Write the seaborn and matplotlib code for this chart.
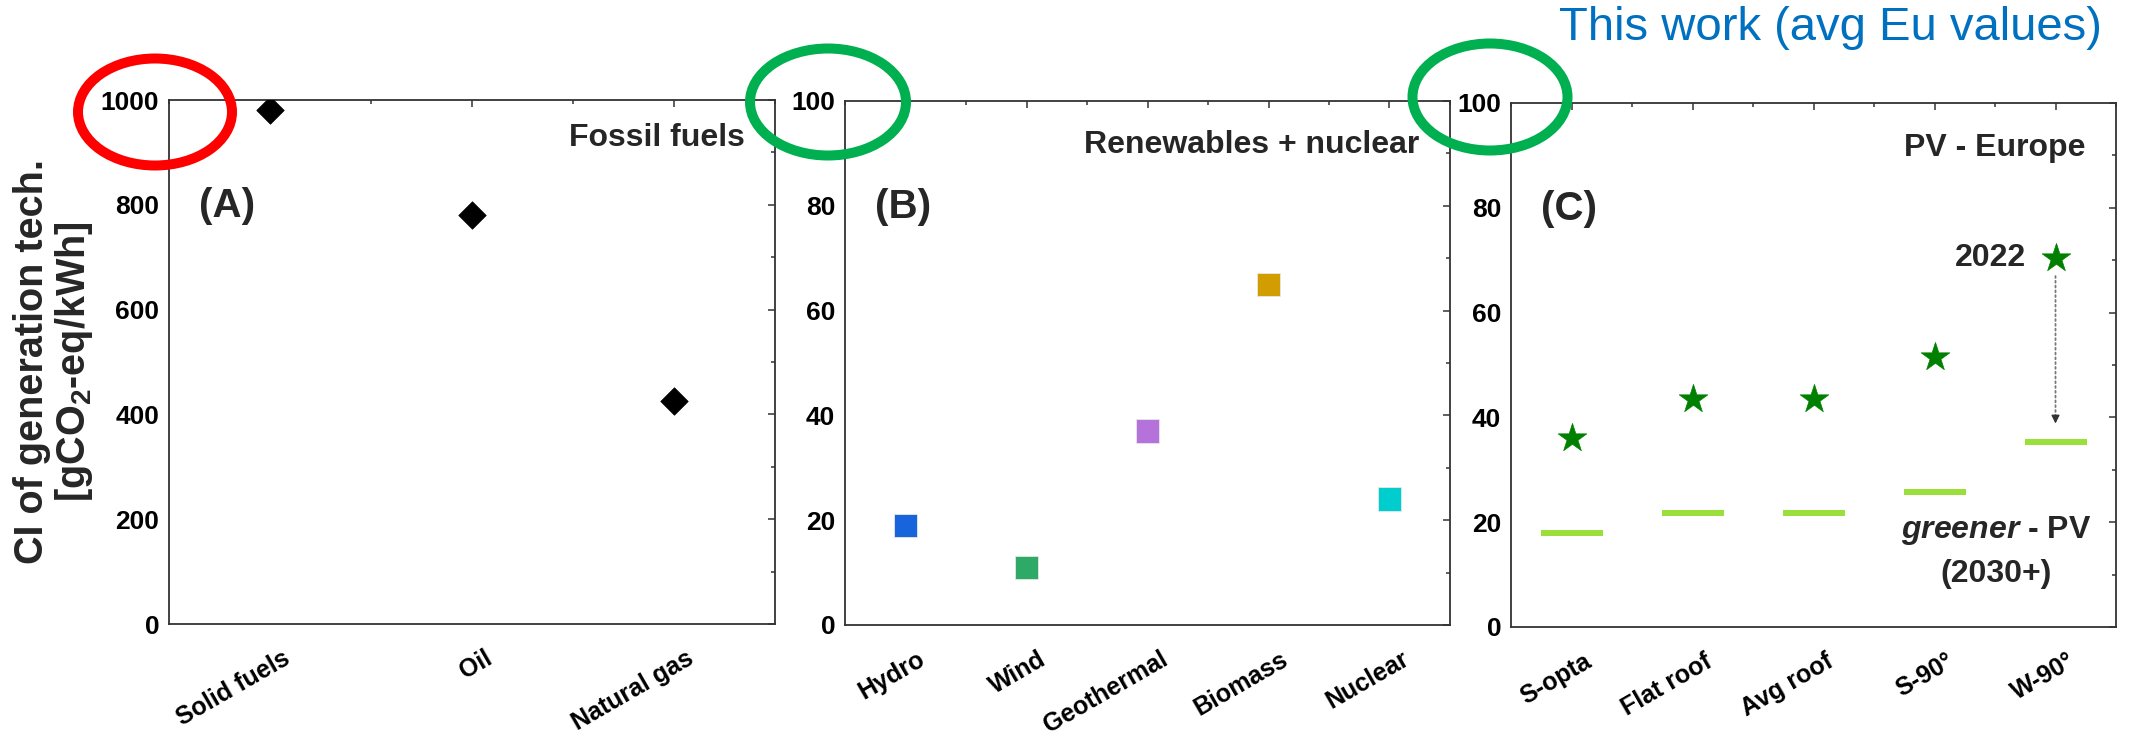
import numpy as np
import pandas as pd
import matplotlib
matplotlib.use("Agg")
import matplotlib.pyplot as plt
import matplotlib.transforms as mtransforms
from matplotlib.patches import Ellipse
from matplotlib.ticker import MultipleLocator
import seaborn as sns

# ---------------- data ----------------
fossil_cats = ["Solid fuels", "Oil", "Natural gas"]
fossil_ci = [980, 780, 425]

renew_cats = ["Hydro", "Wind", "Geothermal", "Biomass", "Nuclear"]
renew_ci = [19, 11, 37, 65, 24]
renew_colors = ["#1764DC", "#2EAA66", "#B472DA", "#D29D00", "#00CDCD"]

pv_cats = ["S-opta", "Flat roof", "Avg roof", "S-90°", "W-90°"]
pv_2022 = [36, 43.5, 43.5, 51.5, 70.5]
pv_2030 = [18, 21.8, 21.8, 25.8, 35.3]

# ---------------- style ----------------
sns.set_theme(style="white")
plt.rcParams["font.family"] = ["Liberation Sans", "DejaVu Sans"]
plt.rcParams["font.weight"] = "bold"
plt.rcParams["mathtext.fontset"] = "custom"
plt.rcParams["mathtext.rm"] = "Liberation Sans:bold"
plt.rcParams["mathtext.bf"] = "Liberation Sans:bold"
plt.rcParams["mathtext.it"] = "Liberation Sans:italic:bold"

W, H = 2134, 734
fig = plt.figure(figsize=(W / 100, H / 100), dpi=100)


def box(l, r, t, b):
    return [l / W, 1 - b / H, (r - l) / W, (b - t) / H]


axA = fig.add_axes(box(169, 775, 100, 624))
axB = fig.add_axes(box(845, 1450, 101, 625))
axC = fig.add_axes(box(1511, 2116, 103, 627))

# ---------------- panels ----------------
sns.scatterplot(x=fossil_cats, y=fossil_ci, marker="D", s=196, color="black",
                edgecolor="black", linewidth=0.5, ax=axA, zorder=3)

sns.scatterplot(x=renew_cats, y=renew_ci, hue=renew_cats,
                palette=dict(zip(renew_cats, renew_colors)), marker="s", s=289,
                linewidth=0.6, edgecolor="#e8e8e8", legend=False, ax=axB, zorder=3)

sns.scatterplot(x=pv_cats, y=pv_2030, marker="_", s=45 ** 2, color="#9ADF3A",
                edgecolor="#9ADF3A", linewidth=4.3, ax=axC, zorder=2)
sns.scatterplot(x=pv_cats, y=pv_2022, marker="*", s=470, color="#008000",
                edgecolor="#008000", linewidth=0.5, ax=axC, zorder=3)


def style(ax, cats, ymax, ymajor, yminor):
    n = len(cats)
    ax.set_xlim(-0.5, n - 0.5)
    ax.set_ylim(0, ymax)
    ax.set_xlabel("")
    ax.set_ylabel("")
    ax.yaxis.set_major_locator(MultipleLocator(ymajor))
    ax.yaxis.set_minor_locator(MultipleLocator(yminor))
    ax.xaxis.set_minor_locator(MultipleLocator(0.5))
    ax.tick_params(which="both", direction="in", top=True, right=True,
                   color="#333333", width=1.1)
    ax.tick_params(which="major", length=5.2)
    ax.tick_params(which="minor", length=2.6)
    ax.tick_params(axis="y", labelsize=19, pad=7, labelcolor="black")
    ax.tick_params(axis="x", labelsize=18, pad=16, labelcolor="black")
    for sp in ax.spines.values():
        sp.set_color("#333333")
        sp.set_linewidth(1.3)
    ax.set_xticks(range(n))
    ax.set_xticklabels(cats, rotation=30, ha="right", va="top",
                       rotation_mode="anchor", fontweight="bold")
    off = mtransforms.ScaledTranslation(12 / 100, 0, fig.dpi_scale_trans)
    for lab in ax.get_xticklabels():
        lab.set_transform(lab.get_transform() + off)


style(axA, fossil_cats, 1000, 200, 100)
style(axB, renew_cats, 100, 20, 10)
style(axC, pv_cats, 100, 20, 10)

# panel titles and letters
axA.text(0.95, 0.927, "Fossil fuels", transform=axA.transAxes, ha="right", va="center", fontsize=23)
axB.text(0.95, 0.916, "Renewables + nuclear", transform=axB.transAxes, ha="right", va="center", fontsize=23)
axC.text(0.95, 0.914, "PV - Europe", transform=axC.transAxes, ha="right", va="center", fontsize=23)
for ax, letter in [(axA, "(A)"), (axB, "(B)"), (axC, "(C)")]:
    ax.text(0.05, 0.797, letter, transform=ax.transAxes, ha="left", va="center", fontsize=29)

# annotations in panel C
last = len(pv_cats) - 1
axC.annotate("2022", xy=(last, pv_2022[last]), xytext=(-21, 0), textcoords="offset points",
             ha="right", va="center", fontsize=23)
axC.annotate("", xy=(last, pv_2030[last] + 4), xytext=(last, pv_2022[last] - 3),
             arrowprops=dict(arrowstyle="-", linestyle=":", color="#777777", lw=1.3))
axC.annotate("", xy=(last, pv_2030[last] + 3), xytext=(last, pv_2030[last] + 5),
             arrowprops=dict(arrowstyle="-|>", color="#333333", lw=1.0, mutation_scale=12))
axC.text(0.802, 0.185, r"$\mathit{greener}$ - PV", transform=axC.transAxes,
         ha="center", va="center", fontsize=23)
axC.text(0.802, 0.102, "(2030+)", transform=axC.transAxes,
         ha="center", va="center", fontsize=23)

# y label
fig.text(54 / W, 1 - 362 / H, "CI of generation tech.\n[gCO$_\\mathbf{2}$-eq/kWh]",
         rotation=90, ha="center", va="center", fontsize=28.5, linespacing=1.05,
         multialignment="center")

# top-right note
fig.text(2102 / W, 1 - 28 / H, "This work (avg Eu values)", ha="right", va="center",
         fontsize=34, fontweight="normal", color="#0070C0")

# highlight ellipses
for cx, cy, rx, ry, col in [(155, 112, 77, 53.5, "#FF0000"),
                            (828, 102, 78, 53.5, "#00B050"),
                            (1490, 97, 77.5, 53.5, "#00B050")]:
    e = Ellipse((cx / W, 1 - cy / H), 2 * rx / W, 2 * ry / H, transform=fig.transFigure,
                fill=False, edgecolor=col, linewidth=7.2, zorder=10)
    fig.add_artist(e)

fig.savefig("out.png", dpi=100)
